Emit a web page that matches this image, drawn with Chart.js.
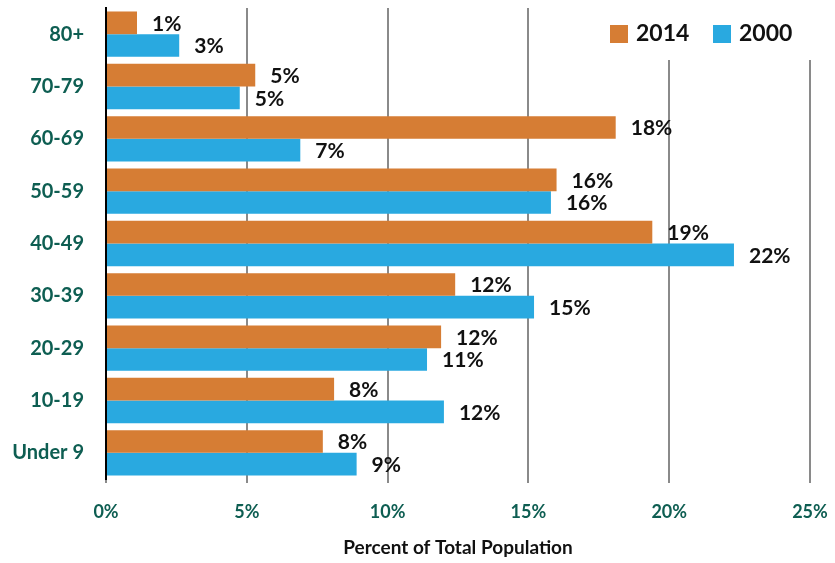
<!DOCTYPE html>
<html>
<head>
<meta charset="utf-8">
<script src="https://cdn.jsdelivr.net/npm/chart.js@4"></script>
<style>
  html, body { margin: 0; padding: 0; background: #fff; }
  #wrap { width: 835px; height: 563px; }
</style>
</head>
<body>
<div id="wrap"><canvas id="myChart" width="835" height="563"></canvas></div>
<script>
// age groups, top to bottom
const ageGroups = ["80+", "70-79", "60-69", "50-59", "40-49", "30-39", "20-29", "10-19", "Under 9"];
// percent of total population
const pct2014 = [1.1, 5.3, 18.1, 16.0, 19.4, 12.4, 11.9, 8.1, 7.7];
const pct2000 = [2.6, 4.75, 6.9, 15.8, 22.3, 15.2, 11.4, 12.0, 8.9];
const xTicks = [0, 5, 10, 15, 20, 25];

const orange = "#D67D34";
const blue = "#29A9E0";
const green = "#0E5E52";
const fontName = "Lato, 'Noto Sans', sans-serif";

// value labels at the end of each bar
const barLabels = {
  id: "barLabels",
  afterDatasetsDraw(chart) {
    const ctx = chart.ctx;
    ctx.save();
    ctx.font = "bold 21px " + fontName;
    ctx.fillStyle = "#111";
    ctx.textBaseline = "middle";
    ctx.textAlign = "left";
    chart.data.datasets.forEach(function (ds, i) {
      const meta = chart.getDatasetMeta(i);
      meta.data.forEach(function (bar, j) {
        ctx.fillText(Math.round(ds.data[j]) + "%", bar.x + 15, bar.y + 1);
      });
    });
    ctx.restore();
  }
};

// legend sits inside the plot, on a white patch over the grid
const boxLegend = {
  id: "boxLegend",
  afterDraw(chart) {
    const ctx = chart.ctx;
    ctx.save();
    ctx.fillStyle = "#fff";
    ctx.fillRect(600, 0, 235, 60);
    ctx.font = "bold 23px " + fontName;
    ctx.textBaseline = "middle";
    let x = 610;
    chart.data.datasets.forEach(function (ds) {
      ctx.fillStyle = ds.backgroundColor;
      ctx.fillRect(x, 25, 18, 18);
      ctx.fillStyle = "#111";
      ctx.fillText(ds.label, x + 26, 34);
      x += 103;
    });
    ctx.restore();
  }
};

var ctx = document.getElementById("myChart").getContext("2d");
var myChart = new Chart(ctx, {
  type: "bar",
  data: {
    labels: ageGroups,
    datasets: [
      { label: "2014", data: pct2014, backgroundColor: orange },
      { label: "2000", data: pct2000, backgroundColor: blue }
    ]
  },
  options: {
    indexAxis: "y",
    responsive: false,
    animation: false,
    categoryPercentage: 0.867,
    barPercentage: 1,
    layout: { padding: { top: 8, right: 25, left: 0, bottom: 0 } },
    plugins: {
      legend: { display: false },
      tooltip: { enabled: false }
    },
    scales: {
      x: {
        min: 0,
        max: 25,
        afterBuildTicks: function (axis) {
          axis.ticks = xTicks.map(function (v) { return { value: v }; });
        },
        afterFit: function (axis) {
          axis.height = 84;
          axis.paddingLeft = 0;
          axis.paddingRight = 0;
        },
        border: { display: false },
        grid: { color: "#8a8a8a", lineWidth: 2, drawTicks: true, tickLength: 4, tickColor: "#8a8a8a" },
        ticks: {
          color: green,
          font: { family: fontName, size: 18, weight: "bold" },
          padding: 18,
          callback: function (v) { return v + "%"; }
        },
        title: {
          display: true,
          text: "Percent of Total Population",
          color: "#111",
          font: { family: fontName, size: 19, weight: "bold" },
          padding: { top: 12 }
        }
      },
      y: {
        afterFit: function (axis) {
          axis.width = 106;
          axis.paddingTop = 0;
          axis.paddingBottom = 0;
        },
        border: { display: true, color: "#000", width: 2 },
        grid: { display: false },
        ticks: {
          color: green,
          font: { family: fontName, size: 20, weight: "bold" },
          padding: 14
        }
      }
    }
  },
  plugins: [barLabels, boxLegend]
});
</script>
</body>
</html>
